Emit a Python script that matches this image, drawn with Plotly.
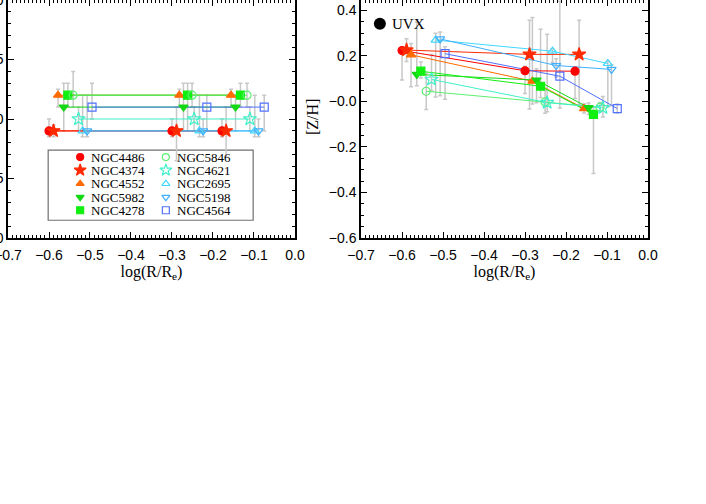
"""
[Z/H] gradients versus log(R/Re) for the galaxy sample
"""
import plotly.graph_objects as go

# Galaxies and plotting symbols
GALAXIES = ["NGC4486", "NGC4374", "NGC4552", "NGC5982", "NGC4278",
            "NGC5846", "NGC4621", "NGC2695", "NGC5198", "NGC4564"]
SYMBOLS = ["circle", "star", "triangle-up", "triangle-down", "square",
           "circle-open", "star-open", "triangle-up-open", "triangle-down-open", "square-open"]
COLORS = ["#FF0000", "#FF2A00", "#FF6A00", "#14D814", "#10F010",
          "#5CF070", "#40F0C8", "#40D8FF", "#40B0FF", "#5070FF"]

# log(R/Re) of the three apertures
LOG_R = [
    [-0.600, -0.300, -0.178],
    [-0.589, -0.289, -0.168],
    [-0.578, -0.282, -0.156],
    [-0.564, -0.272, -0.145],
    [-0.554, -0.262, -0.133],
    [-0.541, -0.251, -0.117],
    [-0.528, -0.246, -0.110],
    [-0.518, -0.233, -0.098],
    [-0.507, -0.224, -0.089],
    [-0.495, -0.215, -0.075],
]

# [Z/H] (right panel)
ZH = [
    [0.224, 0.135, 0.133],
    [0.226, 0.207, 0.207],
    [0.205, 0.089, -0.031],
    [0.119, 0.094, -0.027],
    [0.133, 0.067, -0.057],
    [0.045, -0.002, -0.025],
    [0.097, -0.005, -0.028],
    [0.270, 0.221, 0.167],
    [0.275, 0.158, 0.141],
    [0.210, 0.111, -0.031],
]
ZH_ERR_UP = [
    [0.01, 0.02, 0.02],
    [0.05, 0.15, 0.15],
    [0.05, 0.28, 0.02],
    [0.23, 0.05, 0.02],
    [0.04, 0.25, 0.03],
    [0.08, 0.05, 0.02],
    [0.11, 0.30, 0.05],
    [0.03, 0.01, 0.01],
    [0.03, 0.03, 0.02],
    [0.03, 0.33, 0.02],
]
ZH_ERR_DN = [
    [0.13, 0.10, 0.12],
    [0.05, 0.24, 0.22],
    [0.14, 0.10, 0.02],
    [0.05, 0.10, 0.03],
    [0.03, 0.05, 0.26],
    [0.08, 0.05, 0.02],
    [0.05, 0.04, 0.04],
    [0.25, 0.05, 0.19],
    [0.25, 0.05, 0.16],
    [0.20, 0.14, 0.02],
]

# Left panel: symbol key, each galaxy at a fixed height
KEY_Y = [-0.1, -0.1, 0.2, 0.1, 0.2, 0.2, 0.0, -0.1, -0.1, 0.1]
KEY_ERR_UP = [
    [0.10, 0.10, 0.10],
    [0.05, 0.20, 0.20],
    [0.05, 0.05, 0.05],
    [0.20, 0.20, 0.10],
    [0.10, 0.10, 0.10],
    [0.20, 0.10, 0.10],
    [0.10, 0.10, 0.10],
    [0.30, 0.30, 0.30],
    [0.30, 0.10, 0.10],
    [0.20, 0.10, 0.10],
]
KEY_ERR_DN = [
    [0.05, 0.05, 0.05],
    [0.05, 0.25, 0.22],
    [0.10, 0.10, 0.10],
    [0.20, 0.20, 0.20],
    [0.10, 0.30, 0.10],
    [0.10, 0.10, 0.10],
    [0.10, 0.10, 0.10],
    [0.05, 0.05, 0.05],
    [0.05, 0.05, 0.05],
    [0.10, 0.20, 0.20],
]

# Tick labels of the [Z/H] axis (zero is printed as -0.0 in the original)
ZH_TICKS = [-0.6, -0.4, -0.2, 0.0, 0.2, 0.4]
ZH_TICK_TEXT = ["\u22120.6", "\u22120.4", "\u22120.2", "\u22120.0", "0.2", "0.4"]

SERIF = "Liberation Serif"
SANS = "Liberation Sans"
GREY = "#C8C8C8"


def marker_size(symbol):
    """Star symbols are drawn a bit larger than the others"""
    return 10 if symbol.startswith("star") else 8


def add_panel(fig, xs, ys, ups, dns, xaxis, yaxis):
    """Error bars first, then connecting lines, then symbols"""
    for i in range(len(GALAXIES)):
        fig.add_trace(go.Scatter(
            x=xs[i], y=ys[i], mode="markers",
            marker=dict(opacity=0, size=2),
            error_y=dict(type="data", symmetric=False, array=ups[i], arrayminus=dns[i],
                         color=GREY, thickness=1.5, width=2),
            xaxis=xaxis, yaxis=yaxis, showlegend=False, hoverinfo="skip"
        ))
    for i in range(len(GALAXIES)):
        fig.add_trace(go.Scatter(
            x=xs[i], y=ys[i], mode="lines",
            line=dict(color=COLORS[i], width=1),
            xaxis=xaxis, yaxis=yaxis, showlegend=False, hoverinfo="skip"
        ))
    for i in range(len(GALAXIES)):
        fig.add_trace(go.Scatter(
            x=xs[i], y=ys[i], mode="markers", name=GALAXIES[i],
            marker=dict(symbol=SYMBOLS[i], color=COLORS[i], size=marker_size(SYMBOLS[i]),
                        line=dict(color=COLORS[i], width=1.2)),
            xaxis=xaxis, yaxis=yaxis, showlegend=False
        ))


fig = go.Figure()

key_ys = [[y] * 3 for y in KEY_Y]
add_panel(fig, LOG_R, key_ys, KEY_ERR_UP, KEY_ERR_DN, "x", "y")
add_panel(fig, LOG_R, ZH, ZH_ERR_UP, ZH_ERR_DN, "x2", "y2")

# Symbol key drawn inside the left panel (two columns of five)
key_col_x = [-0.524, -0.315]
key_text_x = [-0.503, -0.292]
key_row_y = [-0.32, -0.43, -0.544, -0.657, -0.767]
for i, name in enumerate(GALAXIES):
    col, row = divmod(i, 5)
    fig.add_trace(go.Scatter(
        x=[key_col_x[col]], y=[key_row_y[row]], mode="markers",
        marker=dict(symbol=SYMBOLS[i], color=COLORS[i], size=marker_size(SYMBOLS[i]) - 1,
                    line=dict(color=COLORS[i], width=1.2)),
        showlegend=False, hoverinfo="skip"
    ))
    fig.add_annotation(x=key_text_x[col], y=key_row_y[row], xref="x", yref="y",
                       text=name, showarrow=False, xanchor="left", yanchor="middle",
                       font=dict(family=SERIF, size=13, color="black"))
fig.add_shape(type="rect", xref="x", yref="y", x0=-0.602, x1=-0.102, y0=-0.851, y1=-0.261,
              line=dict(color="#707070", width=1.2), fillcolor="white", layer="below")

# UVX marker in the right panel
fig.add_trace(go.Scatter(
    x=[-0.654], y=[0.342], mode="markers",
    marker=dict(symbol="circle", color="black", size=12),
    xaxis="x2", yaxis="y2", showlegend=False, hoverinfo="skip"
))
fig.add_annotation(x=-0.63, y=0.342, xref="x2", yref="y2", text="UVX", showarrow=False,
                   xanchor="left", yanchor="middle", font=dict(family=SERIF, size=15, color="black"))

# [Z/H] title, placed between the two panels
fig.add_annotation(x=0.475, y=0.508, xref="paper", yref="paper", text="[Z/H]", textangle=-90,
                   showarrow=False, xanchor="center", yanchor="middle",
                   font=dict(family=SERIF, size=16, color="black"))

axis_common = dict(
    showline=True, linecolor="black", linewidth=1.5, mirror="allticks",
    ticks="inside", ticklen=6, tickwidth=1.2, tickcolor="black",
    showgrid=False, zeroline=False, automargin=False, ticklabeloverflow="allow",
    tickfont=dict(family=SANS, size=14, color="black"),
)
xaxis_common = dict(
    axis_common, range=[-0.7, 0.0], tick0=0, dtick=0.1, tickformat=".1f",
    ticklabelstandoff=3,
    minor=dict(ticks="inside", ticklen=3, dtick=0.01, tickcolor="black", tickwidth=1),
    title=dict(text="log(R/R<sub>e</sub>)", font=dict(family=SERIF, size=16, color="black"),
               standoff=0),
)

fig.update_layout(
    width=706, height=504,
    margin=dict(l=8, r=58, t=0, b=266),
    paper_bgcolor="white", plot_bgcolor="white",
    showlegend=False,
    xaxis=dict(xaxis_common, domain=[0, 0.4484], anchor="y"),
    yaxis=dict(axis_common, range=[-1.0, 1.0], tick0=0, dtick=0.5, tickformat=".1f",
               minor=dict(ticks="inside", ticklen=3, dtick=0.1, tickcolor="black", tickwidth=1),
               anchor="x"),
    xaxis2=dict(xaxis_common, domain=[0.5516, 1.0], anchor="y2"),
    yaxis2=dict(axis_common, range=[-0.6, 0.446], tickmode="array",
                tickvals=ZH_TICKS, ticktext=ZH_TICK_TEXT,
                minor=dict(ticks="inside", ticklen=3, dtick=0.05, tickcolor="black", tickwidth=1),
                anchor="x2"),
)

# The page body has a default 8px margin; drop it so the figure sits at the window corner
fig.write_html("out.html", config={"displayModeBar": False},
               post_script="document.body.style.margin = '0px';")
